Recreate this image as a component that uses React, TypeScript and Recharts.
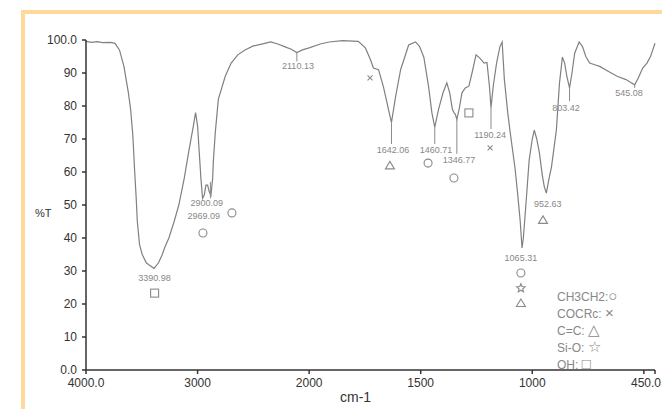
import React from "react";
import { LineChart, Line, XAxis, YAxis, ReferenceDot, ReferenceLine } from "recharts";

// FTIR spectrum, wavenumber (cm-1) vs transmittance (%T)
const waveNumbers = [
  4000, 3950, 3900, 3850, 3780, 3740, 3700, 3660, 3620, 3600, 3580, 3565, 3550, 3540, 3520, 3496,
  3460, 3434, 3390, 3350, 3319, 3290, 3257, 3210, 3168, 3120, 3080, 3040, 3018, 3000, 2985, 2970,
  2955, 2940, 2925, 2910, 2895, 2880, 2865, 2858, 2841, 2814, 2752, 2699, 2640, 2575, 2500, 2398,
  2345, 2280, 2221, 2160, 2110, 2060, 2000, 1950, 1910, 1850, 1780, 1748, 1725, 1712, 1689, 1667,
  1644, 1631, 1613, 1590, 1554, 1523, 1505, 1486, 1465, 1450, 1437, 1420, 1400, 1383, 1370, 1358,
  1351, 1345, 1338, 1328, 1315, 1300, 1284, 1270, 1252, 1235, 1216, 1203, 1192, 1185, 1175, 1160,
  1145, 1135, 1125, 1110, 1099, 1077, 1065, 1054, 1046, 1040, 1027, 1014, 1000, 991, 980, 968,
  955, 946, 937, 925, 914, 892, 878, 865, 855, 845, 833, 822, 810, 790, 775, 760,
  743, 720, 698, 660, 620, 580, 555, 541, 525, 505, 486, 470, 460, 450,
];
const transmittance = [
  99.6, 99.3, 99.5, 99.2, 99.3, 99.0, 97, 92, 84, 79, 71, 61, 52, 45, 38, 35,
  32.5, 31.8, 30.8, 32.5, 34.8, 37.5, 40, 45, 50, 58, 66, 73.5, 78, 74, 66, 58,
  52, 53, 56, 56, 54, 53, 58, 63.6, 72, 82, 89, 93, 95.5, 97, 98.2, 99,
  99.4, 98.8, 98, 97.2, 96.2, 97, 97.6, 98.8, 99.4, 99.8, 99.6, 97.6, 94, 91.5, 91, 85.8,
  78.8, 75, 82.7, 91, 98.5, 99.4, 98, 94.8, 86, 78, 73.6, 79, 84, 87, 84, 79,
  78, 77.5, 76, 79, 84, 85.5, 86, 90, 95.5, 94.5, 93, 93.2, 86, 79.5, 86, 93,
  98, 99.4, 88, 78, 72, 61, 53, 45, 37, 40, 51.5, 63.6, 70, 72.7, 70, 65.8,
  59, 55.5, 53.6, 58, 61.5, 72.7, 87, 94.8, 93, 89, 85.5, 90, 96, 99.4, 98, 95,
  93, 92.5, 92, 90.5, 89, 88, 87, 86.4, 88.5, 91.5, 93, 95, 97, 99,
];

// x tick labels
const xTickValues = [4000, 3000, 2000, 1500, 1000, 500, 450];
const xTickLabels = ["4000.0", "3000", "2000", "1500", "1000", "", "450.0"];
const yTickValues = [0, 10, 20, 30, 40, 50, 60, 70, 80, 90, 100];
const yTickLabels = ["0.0", "10", "20", "30", "40", "50", "60", "70", "80", "90", "100.0"];

// peak labels (wavenumber, %T where text sits)
const peakLabels = [
  { w: 3385, t: 27.9, text: "3390.98" },
  { w: 2918, t: 50.6, text: "2900.09" },
  { w: 2944, t: 46.7, text: "2969.09" },
  { w: 2100, t: 92, text: "2110.13" },
  { w: 1624, t: 66.7, text: "1642.06" },
  { w: 1431, t: 66.7, text: "1460.71" },
  { w: 1328, t: 63.6, text: "1346.77" },
  { w: 1189, t: 71.2, text: "1190.24" },
  { w: 1051, t: 33.9, text: "1065.31" },
  { w: 931, t: 50.3, text: "952.63" },
  { w: 849, t: 79.4, text: "803.42" },
  { w: 566, t: 83.9, text: "545.08" },
];

// group markers
const markers = [
  { w: 3385, t: 23.3, kind: "square" },
  { w: 2952, t: 41.5, kind: "circle" },
  { w: 2692, t: 47.6, kind: "circle" },
  { w: 1727, t: 88.5, kind: "cross" },
  { w: 1638, t: 62, kind: "triangle" },
  { w: 1467, t: 62.7, kind: "circle" },
  { w: 1351, t: 58.2, kind: "circle" },
  { w: 1284, t: 77.9, kind: "square" },
  { w: 1189, t: 67.3, kind: "cross" },
  { w: 1051, t: 29.4, kind: "circle" },
  { w: 1051, t: 24.8, kind: "star" },
  { w: 1051, t: 20.3, kind: "triangle" },
  { w: 952, t: 45.5, kind: "triangle" },
];

// leader lines from band minimum to label
const leaders = [
  { w: 2110, from: 96.2, to: 93.5 },
  { w: 2885, from: 57, to: 52 },
  { w: 1631, from: 75, to: 68.5 },
  { w: 1437, from: 73.6, to: 68.5 },
  { w: 1338, from: 76, to: 65.5 },
  { w: 1185, from: 79.5, to: 73 },
  { w: 833, from: 85.5, to: 81.5 },
  { w: 541, from: 86.4, to: 85.5 },
];

const legendNames = ["CH3CH2:", "COCRc: ", "C=C: ", "Si-O: ", "OH: "];
const legendSymbols = ["\u25CB", "\u00D7", "\u25B3", "\u2606", "\u25A1"];

// split scale: 4000-2000 compressed 2x, 2000-450 linear
const toPos = (w: number) => (w >= 2000 ? (4000 - w) / 2 : 1000 + (2000 - w));

const data = waveNumbers.map((w, i) => ({ x: toPos(w), t: transmittance[i] }));

const GRAY = "#8a8a8a";
const FONT = "'Liberation Sans', Arial, sans-serif";

const XTick = (props: any) => {
  const { x, y, payload } = props;
  const idx = xTickValues.map(toPos).indexOf(payload.value);
  const last = idx === xTickValues.length - 1;
  return (
    <text x={last ? x + 6 : x} y={y} dy="0.71em" textAnchor={last ? "end" : "middle"} fontSize={12} fill="#333" fontFamily={FONT}>
      {xTickLabels[idx]}
    </text>
  );
};

const Marker = ({ cx, cy, kind }: any) => {
  const s = { fill: "none", stroke: GRAY, strokeWidth: 1.1 };
  if (kind === "circle") return <circle cx={cx} cy={cy} r={4} {...s} />;
  if (kind === "square") return <rect x={cx - 4} y={cy - 4} width={8} height={8} {...s} />;
  if (kind === "triangle")
    return <path d={`M${cx},${cy - 4} L${cx + 4.5},${cy + 3.5} L${cx - 4.5},${cy + 3.5} Z`} {...s} />;
  if (kind === "cross")
    return <path d={`M${cx - 2.5},${cy - 2.5} L${cx + 2.5},${cy + 2.5} M${cx + 2.5},${cy - 2.5} L${cx - 2.5},${cy + 2.5}`} {...s} />;
  // star
  const pts: string[] = [];
  for (let k = 0; k < 10; k++) {
    const r = k % 2 === 0 ? 4.5 : 2;
    const a = (Math.PI / 5) * k - Math.PI / 2;
    pts.push(`${cx + r * Math.cos(a)},${cy + r * Math.sin(a)}`);
  }
  return <polygon points={pts.join(" ")} {...s} />;
};

export default function App() {
  return (
    <div style={{ position: "absolute", left: 0, top: 0, width: 662, height: 409, background: "#fff", overflow: "hidden" }}>
      <div
        style={{
          position: "absolute", left: 21, top: 10, width: 700, height: 450,
          borderTop: "4px solid #fdd99b", borderLeft: "4px solid #fdd99b",
        }}
      />
      <div style={{ position: "absolute", left: 0, top: 0 }}>
        <LineChart width={662} height={409} data={data} margin={{ top: 40, right: 7, bottom: 9, left: 26 }}>
          <XAxis
            type="number"
            dataKey="x"
            domain={[0, 2550]}
            ticks={xTickValues.map(toPos)}
            tick={<XTick />}
            tickSize={4}
            tickMargin={4}
            height={30}
            axisLine={{ stroke: "#333", strokeWidth: 1.5 }}
            tickLine={{ stroke: "#333", strokeWidth: 1.5 }}
            interval={0}
          />
          <YAxis
            type="number"
            domain={[0, 100]}
            ticks={yTickValues}
            tickFormatter={(v: number) => yTickLabels[yTickValues.indexOf(v)]}
            width={60}
            tickSize={4}
            tickMargin={5}
            tick={{ fontSize: 12, fill: "#333", fontFamily: FONT }}
            axisLine={{ stroke: "#333", strokeWidth: 1.5 }}
            tickLine={{ stroke: "#333", strokeWidth: 1.5 }}
            interval={0}
            label={{ value: "%T", position: "insideLeft", offset: 9, dy: 8, fontSize: 11, fill: "#333", fontFamily: FONT }}
          />
          <Line type="linear" dataKey="t" stroke="#808080" strokeWidth={1.2} dot={false} isAnimationActive={false} />
          {leaders.map((l, i) => (
            <ReferenceLine
              key={`ld-${i}`}
              segment={[{ x: toPos(l.w), y: l.from }, { x: toPos(l.w), y: l.to }]}
              stroke={GRAY}
              strokeWidth={1}
            />
          ))}
          {peakLabels.map((p, i) => (
            <ReferenceDot
              key={`pl-${i}`}
              x={toPos(p.w)}
              y={p.t}
              r={0}
              ifOverflow="visible"
              shape={(sp: any) => (
                <text x={sp.cx} y={sp.cy} dy={3} textAnchor="middle" fontSize={9} fill="#888" fontFamily={FONT}>
                  {p.text}
                </text>
              )}
            />
          ))}
          {markers.map((m, i) => (
            <ReferenceDot
              key={`mk-${i}`}
              x={toPos(m.w)}
              y={m.t}
              r={0}
              ifOverflow="visible"
              shape={(sp: any) => <Marker cx={sp.cx} cy={sp.cy} kind={m.kind} />}
            />
          ))}
        </LineChart>
      </div>
      <div style={{ position: "absolute", left: 340, top: 389, fontSize: 14, color: "#333", fontFamily: FONT }}>cm-1</div>
      <div style={{ position: "absolute", left: 557, top: 287, fontSize: 12, color: "#888", fontFamily: FONT }}>
        {legendNames.map((s, i) => (
          <div key={s} style={{ height: 17, lineHeight: "17px", whiteSpace: "nowrap" }}>
            {s}
            <span style={{ fontSize: 15, lineHeight: "17px" }}>{legendSymbols[i]}</span>
          </div>
        ))}
      </div>
    </div>
  );
}
